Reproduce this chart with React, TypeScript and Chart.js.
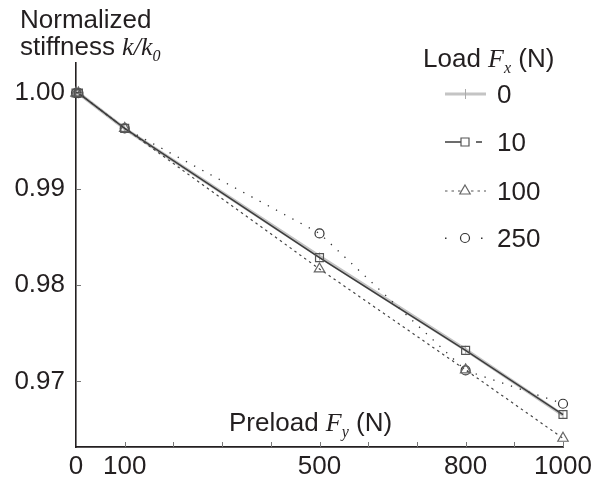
import React, { useEffect, useRef } from "react";
import { Chart, registerables } from "chart.js";

Chart.register(...registerables);

// ---------- data ----------
const preload = [0, 5, 100, 500, 800, 1000];
const stiffLoad0 = [1.0, 1.0, 0.9963, 0.983, 0.9733, 0.9665];
const stiffLoad10 = [1.0, 1.0, 0.99632, 0.98288, 0.97323, 0.96656];
const stiffLoad100 = [1.0, 1.0, 0.99632, 0.9817, 0.9712, 0.96409];
const stiffLoad250 = [1.0, 1.0, 0.99632, 0.9854, 0.97115, 0.96768];
const seriesLabels = ["0", "10", "100", "250"];
const xTickValues = [0, 100, 200, 300, 400, 500, 600, 700, 800, 900, 1000];
const xTickLabels = [0, 100, 500, 800, 1000];
const yTickValues = [0.97, 0.98, 0.99, 1.0];

const TEXT = "#231f20";
const SANS = '"Liberation Sans", Arial, Helvetica, sans-serif';
const SERIF = '"Liberation Serif", "Times New Roman", serif';

type Part = { t: string; it?: boolean; sub?: boolean };

function drawRich(ctx: CanvasRenderingContext2D, x: number, y: number, parts: Part[]) {
  let cx = x;
  for (const p of parts) {
    if (p.sub) ctx.font = `italic 16px ${SERIF}`;
    else if (p.it) ctx.font = `italic 26px ${SERIF}`;
    else ctx.font = `26px ${SANS}`;
    ctx.fillText(p.t, cx, p.sub ? y + 6 : y);
    cx += ctx.measureText(p.t).width;
  }
}

const customPlugin = {
  id: "customDecor",
  afterDraw(chart: any) {
    const ctx: CanvasRenderingContext2D = chart.ctx;
    const xs = chart.scales.x;
    const ys = chart.scales.y;
    const area = chart.chartArea;
    ctx.save();
    // inward ticks
    ctx.strokeStyle = "#777";
    ctx.lineWidth = 1;
    ctx.setLineDash([]);
    xTickValues.forEach((v) => {
      if (v === 0) return;
      const px = Math.round(xs.getPixelForValue(v)) + 0.5;
      ctx.beginPath();
      ctx.moveTo(px, area.bottom);
      ctx.lineTo(px, area.bottom - 5);
      ctx.stroke();
    });
    yTickValues.forEach((v) => {
      const py = Math.round(ys.getPixelForValue(v)) + 0.5;
      ctx.beginPath();
      ctx.moveTo(area.left, py);
      ctx.lineTo(area.left + 5, py);
      ctx.stroke();
    });

    // texts
    ctx.fillStyle = TEXT;
    ctx.textAlign = "left";
    ctx.textBaseline = "alphabetic";
    drawRich(ctx, 20, 28, [{ t: "Normalized" }]);
    drawRich(ctx, 20, 55, [{ t: "stiffness " }, { t: "k/k", it: true }, { t: "0", sub: true }]);
    drawRich(ctx, 423, 67, [{ t: "Load " }, { t: "F", it: true }, { t: "x", sub: true }, { t: " (N)" }]);
    drawRich(ctx, 229, 431, [{ t: "Preload " }, { t: "F", it: true }, { t: "y", sub: true }, { t: " (N)" }]);

    // legend
    const rows = [94, 142, 191, 238];
    const x0 = 445, x1 = 486, mx = 465;
    rows.forEach((ry, i) => {
      ctx.save();
      if (i === 0) {
        ctx.strokeStyle = "#c4c4c4";
        ctx.lineWidth = 3;
        ctx.beginPath(); ctx.moveTo(x0, ry); ctx.lineTo(x1, ry); ctx.stroke();
        ctx.strokeStyle = "#aaa"; ctx.lineWidth = 1;
        ctx.beginPath(); ctx.moveTo(mx + 0.5, ry - 5); ctx.lineTo(mx + 0.5, ry + 5); ctx.stroke();
      } else if (i === 1) {
        ctx.strokeStyle = "#3c3c3c"; ctx.lineWidth = 1.5;
        ctx.beginPath(); ctx.moveTo(x0, ry); ctx.lineTo(461, ry); ctx.moveTo(476, ry); ctx.lineTo(482, ry); ctx.stroke();
        ctx.strokeStyle = "#555"; ctx.fillStyle = "#fff"; ctx.lineWidth = 1.2;
        ctx.beginPath(); ctx.rect(mx - 4, ry - 4, 8, 8); ctx.fill(); ctx.stroke();
      } else if (i === 2) {
        ctx.strokeStyle = "#555"; ctx.lineWidth = 1.2; ctx.setLineDash([2.5, 4]);
        ctx.beginPath(); ctx.moveTo(x0, ry); ctx.lineTo(x1, ry); ctx.stroke();
        ctx.setLineDash([]);
        ctx.fillStyle = "#fff"; ctx.strokeStyle = "#666";
        const r = 6;
        ctx.beginPath();
        ctx.moveTo(mx, ry - r);
        ctx.lineTo(mx + r * 0.866, ry + r / 2);
        ctx.lineTo(mx - r * 0.866, ry + r / 2);
        ctx.closePath(); ctx.fill(); ctx.stroke();
      } else {
        ctx.fillStyle = "#333";
        ctx.fillRect(445, ry - 0.5, 1.5, 1.5);
        ctx.fillRect(481, ry - 0.5, 1.5, 1.5);
        ctx.strokeStyle = "#333"; ctx.fillStyle = "#fff"; ctx.lineWidth = 1.2;
        ctx.beginPath(); ctx.arc(mx, ry, 4.5, 0, Math.PI * 2); ctx.fill(); ctx.stroke();
      }
      ctx.restore();
      ctx.fillStyle = TEXT;
      ctx.font = `26px ${SANS}`;
      ctx.fillText(seriesLabels[i], 497, ry + 9.3);
    });
    ctx.restore();
  },
};

function pts(vals: number[]) {
  return preload.map((x, i) => ({ x, y: vals[i] }));
}

export default function App() {
  const ref = useRef<HTMLCanvasElement | null>(null);
  useEffect(() => {
    if (!ref.current) return;
    const chart = new Chart(ref.current, {
      type: "line",
      data: {
        datasets: [
          {
            label: seriesLabels[0],
            data: pts(stiffLoad0),
            borderColor: "#c4c4c4",
            borderWidth: 3.5,
            pointStyle: "line",
            rotation: 90,
            pointRadius: 4,
            pointBorderColor: "#aaa",
            pointBorderWidth: 1,
            order: 4,
            clip: false,
          },
          {
            label: seriesLabels[1],
            data: pts(stiffLoad10),
            borderColor: "#3c3c3c",
            borderWidth: 1.5,
            pointStyle: "rect",
            pointRadius: 5.6,
            pointBorderColor: "#555",
            pointBackgroundColor: "rgba(255,255,255,0)",
            pointBorderWidth: 1.2,
            order: 1,
            clip: false,
          },
          {
            label: seriesLabels[2],
            data: pts(stiffLoad100),
            borderColor: "#444",
            borderWidth: 1.2,
            borderDash: [2.5, 3.5],
            pointStyle: "triangle",
            pointRadius: 6,
            pointBorderColor: "#666",
            pointBackgroundColor: "rgba(255,255,255,0)",
            pointBorderWidth: 1.2,
            order: 2,
            clip: false,
          },
          {
            label: seriesLabels[3],
            data: pts(stiffLoad250),
            borderColor: "#333",
            borderWidth: 1.3,
            borderDash: [1.3, 8],
            pointStyle: "circle",
            pointRadius: 4.5,
            pointBorderColor: "#333",
            pointBackgroundColor: "rgba(255,255,255,0)",
            pointBorderWidth: 1.2,
            order: 3,
            clip: false,
          },
        ],
      },
      options: {
        responsive: false,
        animation: false,
        devicePixelRatio: 1,
        layout: { padding: { left: 0, top: 63, right: 38, bottom: 0 } },
        plugins: { legend: { display: false }, tooltip: { enabled: false }, title: { display: false } },
        elements: { line: { tension: 0, fill: false } },
        scales: {
          x: {
            type: "linear",
            min: 0,
            max: 1000,
            afterBuildTicks: (s: any) => {
              s.ticks = xTickValues.map((v) => ({ value: v }));
            },
            afterFit: (s: any) => {
              s.height = 34;
            },
            ticks: {
              autoSkip: false,
              maxRotation: 0,
              padding: 4,
              color: TEXT,
              font: { size: 26, family: SANS },
              callback: (v: any) => (xTickLabels.includes(Number(v)) ? String(v) : ""),
            },
            grid: { display: false, drawTicks: false },
            border: { display: true, color: TEXT, width: 1.8 },
          },
          y: {
            type: "linear",
            min: 0.96318,
            max: 1.003125,
            afterBuildTicks: (s: any) => {
              s.ticks = yTickValues.map((v) => ({ value: v }));
            },
            afterFit: (s: any) => {
              s.width = 76;
            },
            ticks: {
              padding: 11,
              color: TEXT,
              font: { size: 26, family: SANS },
              callback: (v: any) => Number(v).toFixed(2),
            },
            grid: { display: false, drawTicks: false },
            border: { display: true, color: TEXT, width: 1.6 },
          },
        },
      },
      plugins: [customPlugin],
    });
    return () => chart.destroy();
  }, []);
  return (
    <div style={{ position: "absolute", left: 0, top: 0, width: 601, height: 481, background: "#fff" }}>
      <canvas ref={ref} width={601} height={481} style={{ display: "block", width: 601, height: 481 }} />
    </div>
  );
}
